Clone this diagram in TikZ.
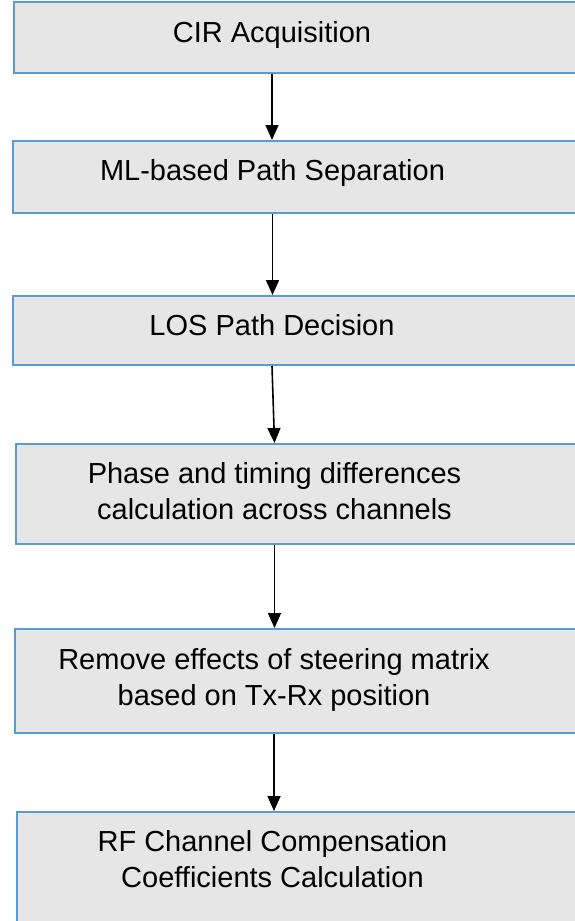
\documentclass[tikz,border=0pt]{standalone}
\usepackage{fontspec}
\setmainfont{Liberation Sans}
\usetikzlibrary{arrows.meta}
\definecolor{boxblue}{HTML}{5B9BD5}
\definecolor{boxfill}{HTML}{E6E6E6}
\begin{document}
\begin{tikzpicture}[x=1pt,y=-1pt,
  stepbox/.style={draw=boxblue, fill=boxfill, line width=2pt, rectangle, anchor=north west, minimum width=600pt, inner sep=0pt},
  lbl/.style={font=\fontsize{29}{36}\selectfont, align=center, anchor=base, inner sep=0pt, text=black},
  arr/.style={draw=black, line width=1.6pt, -{Triangle[length=15pt,width=13pt]}}]
\useasboundingbox (0,0) rectangle (574,921);
\node[stepbox, minimum height=71pt] (b1) at (12.5,0.5) {};
\node[stepbox, minimum height=72pt] (b2) at (12,140) {};
\node[stepbox, minimum height=69pt] (b3) at (12,295) {};
\node[stepbox, minimum height=100pt] (b4) at (15,443) {};
\node[stepbox, minimum height=104pt] (b5) at (14,628) {};
\node[stepbox, minimum height=130pt] (b6) at (16,811) {};
\node[lbl] (t1) at (272,42) {CIR Acquisition};
\node[lbl] (t2) at (272.5,180) {ML-based Path Separation};
\node[lbl] (t3) at (272,335) {LOS Path Decision};
\node[lbl] (t4) at (274.5,519) {Phase and timing differences\\calculation across channels};
\node[lbl] (t5) at (274,705) {Remove effects of steering matrix\\based on Tx-Rx position};
\node[lbl] (t6) at (272.5,887) {RF Channel Compensation\\Coefficients Calculation};
\draw[arr] (t1 |- b1.south) -- (t1 |- b2.north);
\draw[arr] (t2 |- b2.south) -- (t2 |- b3.north);
\draw[arr] (t3 |- b3.south) -- (t4 |- b4.north);
\draw[arr] (t4 |- b4.south) -- (t4 |- b5.north);
\draw[arr] (t5 |- b5.south) -- (t5 |- b6.north);
\end{tikzpicture}
\end{document}
